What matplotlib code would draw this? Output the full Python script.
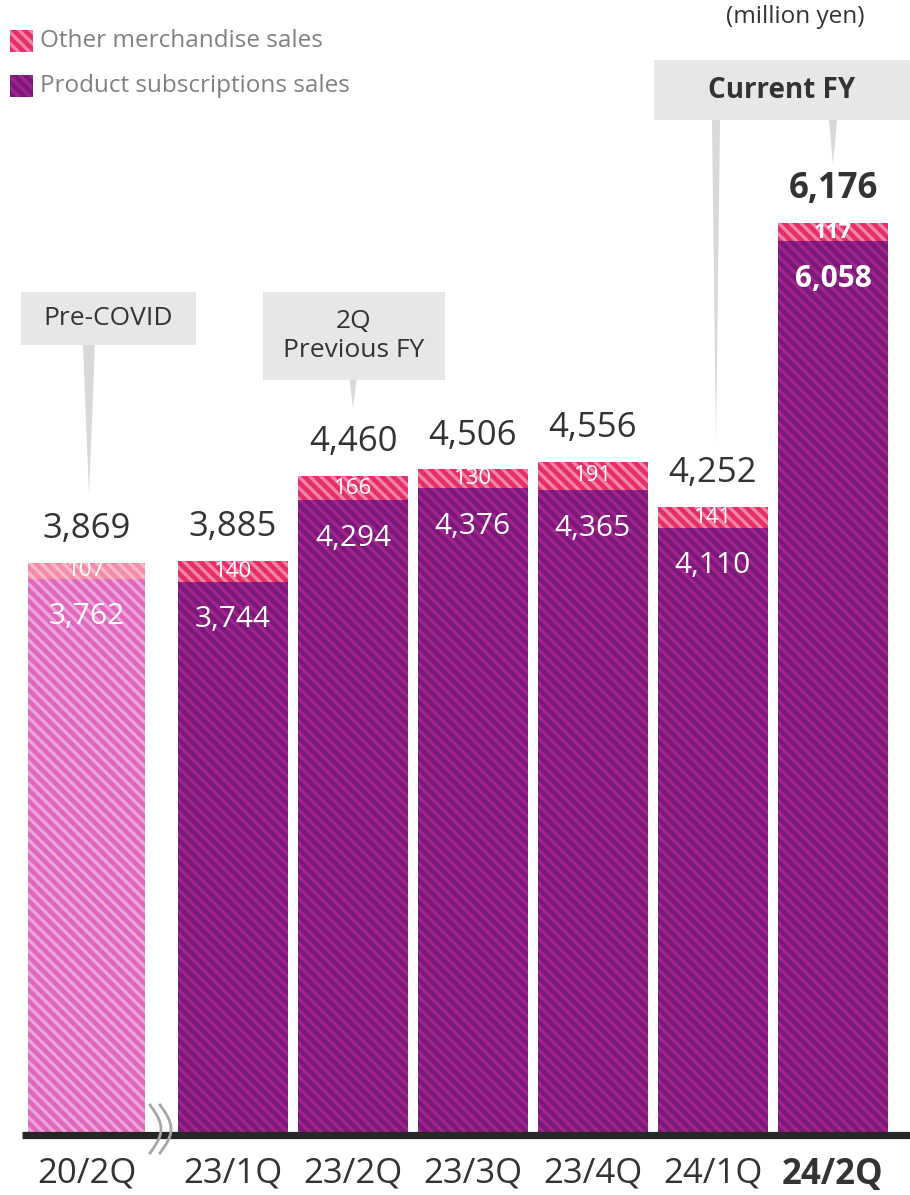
import numpy as np
import matplotlib.pyplot as plt
from matplotlib.patches import Rectangle, Polygon
from matplotlib.lines import Line2D

plt.rcParams['font.family'] = ['Open Sans', 'DejaVu Sans']
plt.rcParams['hatch.linewidth'] = 2.4

# Dati (milioni di yen)
quarters = ['20/2Q', '23/1Q', '23/2Q', '23/3Q', '23/4Q', '24/1Q', '24/2Q']
subscriptions = [3762, 3744, 4294, 4376, 4365, 4110, 6058]
other = [107, 140, 166, 130, 191, 141, 117]
totals = [3869, 3885, 4460, 4506, 4556, 4252, 6176]

# Posizioni delle barre (la prima e' staccata, asse interrotto)
xpos = [-0.221, 1, 2, 3, 4, 5, 6]
widths = [0.975, 0.917, 0.917, 0.917, 0.917, 0.917, 0.917]

W, H = 910, 1195
dark = '#333333'

fig = plt.figure(figsize=(W / 100, H / 100), dpi=100)
ax = fig.add_axes([0, 62 / H, 1, 1133 / H])
ax.set_xlim(-0.9417, 6.6417)
ax.set_ylim(0, 1133 / 0.1473)
ax.axis('off')


def px(x, y):
    # pixel -> frazione della figura
    return (x / W, 1 - y / H)


# Barre
for i in range(len(quarters)):
    if i == 0:
        low_fc, low_hc = '#E066BE', '#EEA6DA'
        top_fc, top_hc = '#F38BA9', '#F8B8CA'
    else:
        low_fc, low_hc = '#7A1A78', '#A3248F'
        top_fc, top_hc = '#E52D6A', '#F384A4'
    ax.bar(xpos[i], subscriptions[i], width=widths[i], color=low_fc,
           edgecolor=low_hc, linewidth=0, hatch='\\\\\\')
    ax.bar(xpos[i], other[i], bottom=subscriptions[i], width=widths[i],
           color=top_fc, edgecolor=top_hc, linewidth=0, hatch='\\\\\\')

# Etichette
for i in range(len(quarters)):
    bold = 'bold' if i == len(quarters) - 1 else 'normal'
    ax.annotate(f'{totals[i]:,}', (xpos[i], subscriptions[i] + other[i]),
                xytext=(0, 12), textcoords='offset points', ha='center',
                va='bottom', fontsize=25, color=dark, fontweight=bold)
    ax.text(xpos[i], subscriptions[i] + other[i] / 2, f'{other[i]:,}',
            ha='center', va='center', fontsize=16, color='white',
            fontweight=bold)
    ax.annotate(f'{subscriptions[i]:,}', (xpos[i], subscriptions[i]),
                xytext=(0, -17), textcoords='offset points', ha='center',
                va='top', fontsize=21.5, color='white', fontweight=bold)
    ax.annotate(quarters[i], (xpos[i], 0), xytext=(0, -17),
                textcoords='offset points', ha='center', va='top',
                fontsize=25, color=dark, fontweight=bold)

# Linea di base
fig.add_artist(Line2D([22 / W, 1], [1 - 1134.5 / H] * 2, color='#262626',
                      lw=5.2, solid_capstyle='butt'))

# Simbolo di interruzione asse
t = np.linspace(0, 1, 50)
for dx in (0, 10):
    xs = 150 + dx + 11 * np.sin(np.pi * t)
    ys = 1105 + 48 * t
    fig.add_artist(Line2D(xs / W, 1 - ys / H, color='#A6A6A6', lw=2))

# Riquadri di richiamo
def callout(x0, y0, x1, y1, text, weight='normal', size=19):
    fig.add_artist(Rectangle(px(x0, y1), (x1 - x0) / W, (y1 - y0) / H,
                             transform=fig.transFigure, color='#E7E7E7', lw=0))
    fig.text((x0 + x1) / 2 / W, 1 - (y0 + y1) / 2 / H, text, ha='center',
             va='center', fontsize=size, color=dark, fontweight=weight,
             linespacing=1.2)


def pointer(xc, y0, y1, half):
    fig.add_artist(Polygon([px(xc - half, y0), px(xc + half, y0), px(xc, y1)],
                           transform=fig.transFigure, color='#D9D9D9', lw=0))


callout(21, 292, 196, 345, 'Pre-COVID')
pointer(89, 345, 495, 6)
callout(263, 292, 445, 380, '2Q\nPrevious FY')
pointer(353, 380, 408, 3.5)
callout(654, 60, 910, 120, 'Current FY', weight='bold', size=20)
pointer(716, 120, 445, 4)
pointer(833, 120, 165, 4)

fig.text(795 / W, 1 - 17 / H, '(million yen)', ha='center', va='center',
         fontsize=17.5, color=dark)

# Legenda
legend_items = [('Other merchandise sales', '#E52D6A', '#F384A4', 30),
                ('Product subscriptions sales', '#7A1A78', '#A3248F', 75)]
for label, fc, hc, ytop in legend_items:
    fig.add_artist(Rectangle(px(10, ytop + 22), 23 / W, 22 / H,
                             transform=fig.transFigure, facecolor=fc,
                             edgecolor=hc, lw=0, hatch='\\\\\\'))
    fig.text(40 / W, 1 - (ytop + 11) / H, label, ha='left', va='center',
             fontsize=17.5, color='#808080')

fig.savefig('out.png', dpi=100)
